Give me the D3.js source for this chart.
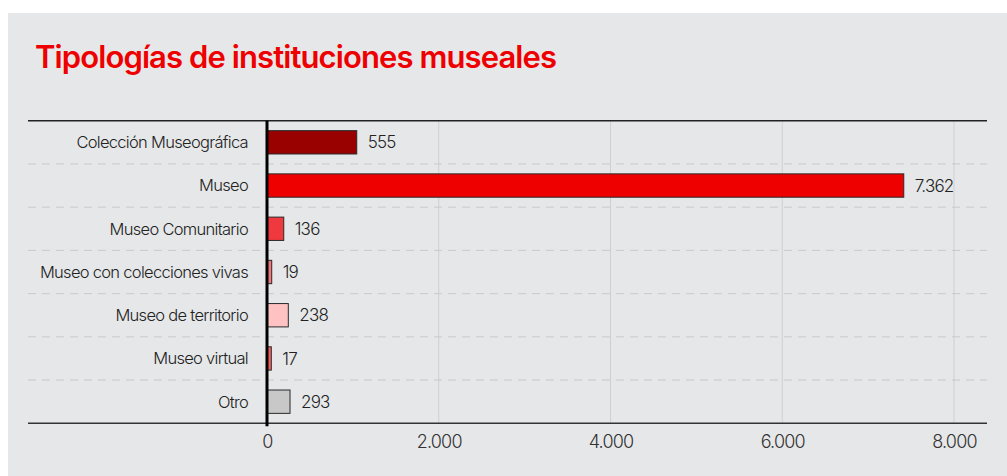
<!DOCTYPE html>
<html><head><meta charset="utf-8">
<script src="https://cdn.jsdelivr.net/npm/d3@7"></script>
<style>
html,body{margin:0;padding:0;background:#fff;}
svg{display:block;}
</style></head>
<body>
<script>
const categories = ["Colección Museográfica","Museo","Museo Comunitario","Museo con colecciones vivas","Museo de territorio","Museo virtual","Otro"];
const barValues = [1045, 7415, 195, 55, 248, 50, 268];
const valueLabels = ["555","7.362","136","19","238","17","293"];
const barColors = ["#990000","#ee0000","#f0393f","#f0747a","#ffc2c2","#f06262","#c8c8c8"];
const tickValues = [0, 2000, 4000, 6000, 8000];
const tickLabels = ["0","2.000","4.000","6.000","8.000"];
const title = "Tipologías de instituciones museales";

const W = 1007, H = 476;
const svg = d3.select("body").append("svg").attr("width", W).attr("height", H);
svg.append("rect").attr("x", 8).attr("y", 13).attr("width", W - 8).attr("height", H - 13).attr("fill", "#e6e7e9");

svg.append("text").attr("x", 35).attr("y", 68).text(title)
  .attr("fill", "#ee0000").attr("font-family", "Inter, 'Liberation Sans', sans-serif")
  .attr("font-weight", 600).attr("font-size", 31).attr("letter-spacing", -0.9);

const pLeft = 28, pRight = 987, pTop = 120.7, pBottom = 423.3;
const x = d3.scaleLinear().domain([0, 8000]).range([267, 954]);
const y = d3.scaleBand().domain(categories).range([pTop, pBottom]).paddingInner(0.46).paddingOuter(0.23);
const step = y.step();

const font = "Inter, 'Liberation Sans', sans-serif";

// vertical grid
svg.append("g").selectAll("line").data(tickValues.slice(1)).join("line")
  .attr("x1", d => x(d)).attr("x2", d => x(d)).attr("y1", pTop).attr("y2", pBottom)
  .attr("stroke", "#cfcfd1").attr("stroke-width", 1);

// dashed separators
svg.append("g").selectAll("line").data(categories.slice(1)).join("line")
  .attr("x1", pLeft).attr("x2", pRight)
  .attr("y1", d => pTop + categories.indexOf(d) * step).attr("y2", d => pTop + categories.indexOf(d) * step)
  .attr("stroke", "#c8c9cb").attr("stroke-width", 1).attr("stroke-dasharray", "8,6");

// bars
svg.append("g").selectAll("rect").data(categories).join("rect")
  .attr("x", x(0)).attr("y", d => y(d))
  .attr("width", (d, i) => x(barValues[i]) - x(0)).attr("height", y.bandwidth())
  .attr("fill", (d, i) => barColors[i]).attr("stroke", "#2a2a2a").attr("stroke-width", 1);

// value labels
svg.append("g").selectAll("text").data(categories).join("text")
  .attr("x", (d, i) => x(barValues[i]) + 11).attr("y", d => y(d) + y.bandwidth() / 2)
  .attr("dy", "0.36em").text((d, i) => valueLabels[i])
  .attr("font-family", font).attr("font-size", 17).attr("font-weight", 300).attr("fill", "#222").attr("letter-spacing", -0.8);

// category labels
svg.append("g").selectAll("text").data(categories).join("text")
  .attr("x", 248).attr("y", d => y(d) + y.bandwidth() / 2)
  .attr("dy", "0.36em").attr("text-anchor", "end").text(d => d)
  .attr("font-family", font).attr("font-size", 16.5).attr("font-weight", 300).attr("fill", "#222").attr("letter-spacing", -0.7);

// top and bottom axis lines
svg.append("line").attr("x1", pLeft).attr("x2", pRight).attr("y1", pTop).attr("y2", pTop).attr("stroke", "#222").attr("stroke-width", 1.5);
const xAxis = d3.axisBottom(x).tickValues(tickValues).tickFormat((d, i) => tickLabels[i]).tickSize(0).tickPadding(12);
const ax = svg.append("g").attr("transform", `translate(0,${pBottom})`).call(xAxis);
ax.select(".domain").remove();
ax.selectAll("text").attr("font-family", font).attr("font-size", 18).attr("font-weight", 300).attr("fill", "#333").attr("letter-spacing", -0.8);
svg.append("line").attr("x1", pLeft).attr("x2", pRight).attr("y1", pBottom).attr("y2", pBottom).attr("stroke", "#333").attr("stroke-width", 1.5);

// zero line
svg.append("line").attr("x1", x(0)).attr("x2", x(0)).attr("y1", pTop).attr("y2", pBottom + 3).attr("stroke", "#000").attr("stroke-width", 3);
</script>
</body></html>
